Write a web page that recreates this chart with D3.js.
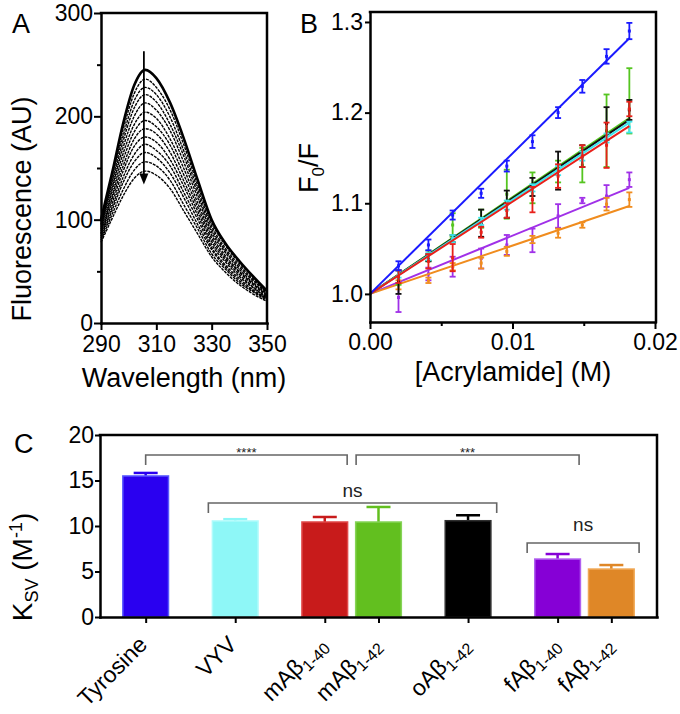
<!DOCTYPE html>
<html><head><meta charset="utf-8">
<script src="https://cdn.jsdelivr.net/npm/d3@7"></script>
<style>
body{margin:0;background:#fff;}
svg text{font-family:"Liberation Sans",Arial,Helvetica,sans-serif;}
</style></head><body>
<svg id="fig" width="680" height="714"></svg>
<script>
// ---------------- DATA ----------------
// Panel A: emission spectra (AU) at increasing acrylamide
const wavelengths = [290,294,298,302,306,310,315,320,325,330,335,340,345,350];
const spectra = [
  [100,145,193,230,245,237,213,178,138,100,77,60,45,31],
  [98,141,187,222,236,228,206,172,133,97,75,58,44,30],
  [96,138,181,215,228,221,199,166,129,94,72,56,42,29],
  [95,134,176,208,221,214,192,161,125,91,70,54,41,29],
  [93,131,170,200,213,206,186,155,121,88,68,52,39,28],
  [91,127,164,192,204,198,178,149,116,85,65,50,38,27],
  [89,123,158,185,196,190,172,143,112,82,63,49,37,26],
  [87,120,152,178,188,183,165,137,108,79,61,47,35,25],
  [86,116,147,171,180,175,158,132,104,76,59,45,34,24],
  [84,112,141,163,173,167,152,126,100,73,56,43,32,24],
  [82,109,136,156,165,160,145,121,95,71,54,41,31,23],
  [80,105,129,148,156,152,138,114,91,67,52,39,30,22],
  [78,101,123,140,147,143,130,108,86,64,49,37,28,21]
];
const arrowWavelength = 305.5, arrowFrom = 263, arrowTo = 134;
const ticksA_x = [290,310,330,350], ticksA_y = [0,100,200,300], minorA_y = [50,150,250];

// Panel B: Stern-Volmer plots
const acrylamide = [0.0020,0.0041,0.0058,0.0078,0.0096,0.0114,0.0132,0.0149,0.0166,0.0182];
const seriesB = ['purple','orange','green','black','cyan','red','blue'];
const meanB = {
  blue:   [1.031,1.054,1.087,1.111,1.141,1.168,1.200,1.229,1.262,1.290],
  cyan:   [1.022,1.041,1.061,1.080,1.098,1.117,1.136,1.152,1.172,1.184],
  red:    [1.019,1.036,1.040,1.068,1.092,1.104,1.130,1.152,1.164,1.204],
  green:  [1.018,1.042,1.076,1.083,1.110,1.117,1.135,1.142,1.180,1.213],
  black:  [1.013,1.040,1.061,1.078,1.099,1.118,1.136,1.152,1.188,1.203],
  purple: [0.996,1.022,1.030,1.039,1.054,1.059,1.086,1.103,1.108,1.126],
  orange: [1.010,1.015,1.030,1.034,1.047,1.060,1.067,1.076,1.099,1.104]
};
const errB = {
  blue:   [0.005,0.006,0.005,0.005,0.006,0.007,0.006,0.007,0.008,0.009],
  cyan:   [0.004,0.004,0.004,0.004,0.005,0.004,0.005,0.005,0.005,0.006],
  red:    [0.007,0.008,0.015,0.006,0.008,0.014,0.013,0.012,0.025,0.008],
  green:  [0.008,0.006,0.013,0.010,0.027,0.017,0.012,0.019,0.040,0.036],
  black:  [0.013,0.004,0.004,0.015,0.015,0.010,0.021,0.012,0.018,0.011],
  purple: [0.016,0.007,0.011,0.011,0.011,0.013,0.013,0.003,0.012,0.008],
  orange: [0.005,0.003,0.004,0.006,0.005,0.004,0.005,0.003,0.007,0.008]
};
const fitStart = 1.0;
const fitEnd = {blue:1.282, cyan:1.189, red:1.185, green:1.194, black:1.192, purple:1.117, orange:1.097};
const ticksB_x = [0,0.01,0.02], minorB_x = [0.005,0.015], ticksB_y = [1.0,1.1,1.2,1.3];

// Panel C: KSV bar chart
const catMain = ['Tyrosine','VYV','mA\u03b2','mA\u03b2','oA\u03b2','fA\u03b2','fA\u03b2'];
const catSub  = ['','','1-40','1-42','1-42','1-40','1-42'];
const catGroup = [0,1,2,2,3,4,4];
const ksv    = [15.5,10.55,10.44,10.44,10.58,6.37,5.27];
const ksvErr = [0.33,0.2,0.55,1.65,0.6,0.55,0.44];
const ticksC_y = [0,5,10,15,20];

// ---------------- STYLE ----------------
const FONT = '"Liberation Sans", Arial, Helvetica, sans-serif';
const colB = {blue:'#1a1aff', cyan:'#3fe6ee', red:'#e8201a', green:'#55c520', black:'#111111', purple:'#a030e8', orange:'#f08c1e'};
const barFill   = ['#2a00f0','#8ef7f7','#c81b1b','#62bf1f','#000000','#8600d6','#df8727'];
const barStroke = ['#5a5aff','#b0fbfb','#e04848','#86d458','#303030','#b060f0','#f0a855'];

const svg = d3.select('#fig');

function styleAxis(g, fs){
  g.attr('font-size', fs).attr('font-family', FONT);
  g.select('.domain').attr('stroke','#000').attr('stroke-width',2.5).attr('stroke-linecap','square');
  g.selectAll('.tick line').attr('stroke','#000').attr('stroke-width',2);
  g.selectAll('.tick text').attr('fill','#000');
}
function frame(g, x0, x1, y0, y1){
  g.append('path').attr('d', `M${x0},${y0}H${x1}V${y1}`)
    .attr('fill','none').attr('stroke','#000').attr('stroke-width',2.5).attr('stroke-linecap','square');
}

// ---------------- PANEL A ----------------
const xA = d3.scaleLinear().domain([290,350]).range([101,267]);
const yA = d3.scaleLinear().domain([0,300]).range([323,13]);
const gA = svg.append('g');
const lineA = d3.line().x((d,i)=>xA(wavelengths[i])).y(d=>yA(d)).curve(d3.curveMonotoneX);
spectra.slice().reverse().forEach((s,ri)=>{
  const k = spectra.length-1-ri;
  gA.append('path').attr('d', lineA(s)).attr('fill','none').attr('stroke','#000')
    .attr('stroke-width', k===0?2.6:1.4).attr('stroke-dasharray', k===0?null:'3,1');
});
// arrow
const ax = xA(arrowWavelength);
gA.append('line').attr('x1',ax).attr('x2',ax).attr('y1',yA(arrowFrom)).attr('y2',yA(arrowTo)-8)
  .attr('stroke','#000').attr('stroke-width',1.8);
gA.append('path').attr('d',`M${ax-4.5},${yA(arrowTo)-11}L${ax+4.5},${yA(arrowTo)-11}L${ax},${yA(arrowTo)}Z`).attr('fill','#000');

gA.append('g').attr('transform','translate(0,323)')
  .call(d3.axisBottom(xA).tickValues(ticksA_x).tickSize(7).tickPadding(6).tickSizeOuter(0).tickFormat(d3.format('d')))
  .call(g=>styleAxis(g,23));
gA.append('g').attr('transform','translate(101,0)')
  .call(d3.axisLeft(yA).tickValues(ticksA_y).tickSize(7).tickPadding(1).tickSizeOuter(0).tickFormat(d3.format('d')))
  .call(g=>styleAxis(g,23));
gA.append('g').attr('transform','translate(101,0)')
  .call(d3.axisLeft(yA).tickValues(minorA_y).tickSize(4).tickFormat(''))
  .call(g=>{styleAxis(g,23); g.select('.domain').remove();});
frame(gA, 101, 267, 13, 323);
gA.append('text').attr('x',184).attr('y',387).attr('text-anchor','middle').attr('font-size',27).text('Wavelength (nm)');
gA.append('text').attr('transform','translate(31,209) rotate(-90)').attr('text-anchor','middle').attr('font-size',27).text('Fluorescence (AU)');
gA.append('text').attr('x',12).attr('y',33).attr('font-size',27).text('A');

// ---------------- PANEL B ----------------
const xB = d3.scaleLinear().domain([0,0.02]).range([370,655]);
const yB = d3.scaleLinear().domain([0.969,1.311]).range([322,12]);
const gB = svg.append('g');
const xFitMax = acrylamide[acrylamide.length-1];
seriesB.forEach(s=>{
  const c = colB[s];
  gB.append('line').attr('x1',xB(0)).attr('y1',yB(fitStart)).attr('x2',xB(xFitMax)).attr('y2',yB(fitEnd[s]))
    .attr('stroke',c).attr('stroke-width',2);
  const eg = gB.append('g').attr('stroke',c).attr('stroke-width',1.8);
  acrylamide.forEach((x,i)=>{
    const m = meanB[s][i], e = errB[s][i], px = xB(x);
    eg.append('line').attr('x1',px).attr('x2',px).attr('y1',yB(m-e)).attr('y2',yB(m+e));
    eg.append('line').attr('x1',px-3).attr('x2',px+3).attr('y1',yB(m-e)).attr('y2',yB(m-e));
    eg.append('line').attr('x1',px-3).attr('x2',px+3).attr('y1',yB(m+e)).attr('y2',yB(m+e));
    gB.append('rect').attr('x',px-1.5).attr('y',yB(m)-1.5).attr('width',3).attr('height',3).attr('fill',c);
  });
});
gB.append('g').attr('transform','translate(0,322)')
  .call(d3.axisBottom(xB).tickValues(ticksB_x).tickSize(7).tickPadding(5).tickSizeOuter(0).tickFormat(d3.format('.2f')))
  .call(g=>styleAxis(g,23));
gB.append('g').attr('transform','translate(0,322)')
  .call(d3.axisBottom(xB).tickValues(minorB_x).tickSize(4).tickFormat(''))
  .call(g=>{styleAxis(g,23); g.select('.domain').remove();});
gB.append('g').attr('transform','translate(370,0)')
  .call(d3.axisLeft(yB).tickValues(ticksB_y).tickSize(5).tickPadding(2).tickSizeOuter(0).tickFormat(d3.format('.1f')))
  .call(g=>styleAxis(g,23));
frame(gB, 370, 656, 12, 322);
gB.append('text').attr('x',513).attr('y',381).attr('text-anchor','middle').attr('font-size',27).text('[Acrylamide] (M)');
const tB = gB.append('text').attr('transform','translate(318,168) rotate(-90)').attr('text-anchor','middle').attr('font-size',27);
tB.append('tspan').text('F');
tB.append('tspan').attr('font-size',17).attr('dy',6).text('0');
tB.append('tspan').attr('dy',-6).text('/F');
gB.append('text').attr('x',300).attr('y',33).attr('font-size',27).text('B');

// ---------------- PANEL C ----------------
const PAIR_STEP = 6, GROUP_STEP = 10, BAR_UNITS = 5.1;
const posC = [];
catGroup.forEach((g,i)=>posC.push(i===0?0:posC[i-1]+(g===catGroup[i-1]?PAIR_STEP:GROUP_STEP)));
const xC = d3.scaleLinear().domain([-5.1,57.1]).range([100,657]);
const yC = d3.scaleLinear().domain([0,20]).range([617,435]);
const gC = svg.append('g');
const bw = xC(BAR_UNITS)-xC(0);
ksv.forEach((v,i)=>{
  const cx = xC(posC[i]);
  gC.append('line').attr('x1',cx).attr('x2',cx).attr('y1',yC(v)).attr('y2',yC(v+ksvErr[i]))
    .attr('stroke',barFill[i]).attr('stroke-width',2.5);
  gC.append('line').attr('x1',cx-12).attr('x2',cx+12).attr('y1',yC(v+ksvErr[i])).attr('y2',yC(v+ksvErr[i]))
    .attr('stroke',barFill[i]).attr('stroke-width',2.5);
  gC.append('rect').attr('x',cx-bw/2).attr('y',yC(v)).attr('width',bw).attr('height',yC(0)-yC(v))
    .attr('fill',barFill[i]).attr('stroke',barStroke[i]).attr('stroke-width',1.5);
});
// significance brackets
const brackets = [
  {x1:0,    x2:22.5, top:17.8,  label:'****', ly:17.55, fs:13},
  {x1:23.5, x2:48.4, top:17.8,  label:'***',  ly:17.55, fs:13},
  {x1:7.0,  x2:39.2, top:12.53, label:'ns',   ly:13.19, fs:19},
  {x1:42.6, x2:55.1, top:8.13,  label:'ns',   ly:9.45,  fs:19}
];
brackets.forEach(b=>{
  const X1=xC(b.x1), X2=xC(b.x2), T=yC(b.top);
  gC.append('path').attr('d',`M${X1},${T+10}V${T}H${X2}V${T+10}`).attr('fill','none')
    .attr('stroke','#666').attr('stroke-width',1.6);
  gC.append('text').attr('x',(X1+X2)/2).attr('y',yC(b.ly)).attr('text-anchor','middle')
    .attr('font-size',b.fs).attr('fill','#222').text(b.label);
});
gC.append('g').attr('transform','translate(100,0)')
  .call(d3.axisLeft(yC).tickValues(ticksC_y).tickSize(5).tickPadding(1).tickSizeOuter(0).tickFormat(d3.format('d')))
  .call(g=>styleAxis(g,23));
gC.append('g').attr('transform','translate(0,617)')
  .call(d3.axisBottom(xC).tickValues(posC).tickSize(6).tickSizeOuter(0).tickFormat(''))
  .call(g=>styleAxis(g,23));
// rotated category labels (-45 deg), end of text anchored just right of each tick
posC.forEach((p,i)=>{
  const lg = gC.append('g').attr('transform',`translate(${xC(p)+3},646) rotate(-45)`);
  const t = lg.append('text').attr('x',0).attr('y',0).attr('text-anchor','end')
    .attr('font-size',23).attr('fill','#000');
  t.append('tspan').text(catMain[i]);
  if(catSub[i]) t.append('tspan').attr('font-size',16).attr('dy',5).text(catSub[i]);
});
frame(gC, 100, 657, 435, 617);
const tC = gC.append('text').attr('transform','translate(32,567) rotate(-90)').attr('text-anchor','middle').attr('font-size',28);
tC.append('tspan').text('K');
tC.append('tspan').attr('font-size',18).attr('dy',6).text('SV');
tC.append('tspan').attr('dy',-6).text(' (M');
tC.append('tspan').attr('font-size',18).attr('dy',-10).text('-1');
tC.append('tspan').attr('dy',10).text(')');
gC.append('text').attr('x',14).attr('y',453).attr('font-size',27).text('C');
</script></body></html>
